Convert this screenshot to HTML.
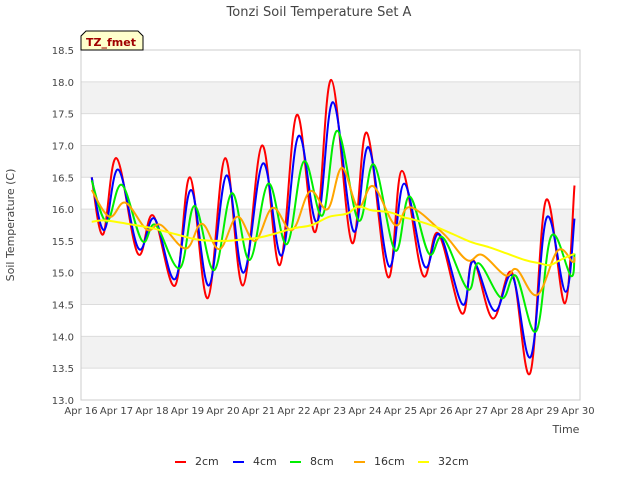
<!DOCTYPE html>
<html><head><meta charset="utf-8"><style>
body{margin:0;background:#fff;font-family:"Liberation Sans","DejaVu Sans",sans-serif;}
svg text{font-family:"DejaVu Sans","Liberation Sans",sans-serif;}
</style></head><body>
<svg id="c" width="640" height="480" xmlns="http://www.w3.org/2000/svg">
<rect width="640" height="480" fill="#fff"/>
<text x="319" y="16" text-anchor="middle" font-size="13" fill="#444">Tonzi Soil Temperature Set A</text>
<g id="grid"></g>
<rect x="81" y="50" width="499" height="350" fill="none" stroke="#ccc"/>
<g id="series"></g>
<g id="axes"></g>
<text x="14" y="225" transform="rotate(-90 14 225)" text-anchor="middle" font-size="11" fill="#444">Soil Temperature (C)</text>
<text x="566" y="433" text-anchor="middle" font-size="11" fill="#444">Time</text>
<g>
<path d="M81,50 L81,36 L86,31 L138,31 L143,36 L143,50 Z" fill="#ffffcc" stroke="#000" stroke-width="1"/>
<text x="111" y="46" text-anchor="middle" font-size="11" font-weight="bold" fill="#a00000">TZ_fmet</text>
</g>
<g id="legend"></g>
</svg>
<script>
const yTicks=[13.0,13.5,14.0,14.5,15.0,15.5,16.0,16.5,17.0,17.5,18.0,18.5];
const xTickLabels=["Apr 16","Apr 17","Apr 18","Apr 19","Apr 20","Apr 21","Apr 22","Apr 23","Apr 24","Apr 25","Apr 26","Apr 27","Apr 28","Apr 29","Apr 30"];
const seriesNames=["2cm","4cm","8cm","16cm","32cm"];
const seriesColors=["#ff0000","#0000ff","#00ee00","#ffa500","#ffff00"];
const t2=[0.3,0.62,1.0,1.6,2.03,2.65,3.07,3.57,4.06,4.56,5.1,5.6,6.08,6.6,7.05,7.63,8.05,8.65,9.04,9.63,10.06,10.73,11.04,11.6,12.14,12.65,13.1,13.63,13.9];
const v2=[16.5,15.6,16.8,15.3,15.9,14.8,16.5,14.6,16.8,14.8,17.0,15.12,17.48,15.64,18.03,15.47,17.2,14.93,16.6,14.96,15.62,14.36,15.2,14.28,15.0,13.42,16.14,14.52,16.37];
const t4=[0.3,0.65,1.05,1.62,2.07,2.65,3.1,3.6,4.1,4.58,5.13,5.65,6.13,6.65,7.1,7.68,8.1,8.68,9.1,9.68,10.1,10.75,11.05,11.65,12.15,12.67,13.12,13.65,13.9];
const v4=[16.5,15.67,16.62,15.38,15.85,14.9,16.3,14.8,16.53,15.0,16.72,15.27,17.15,15.8,17.68,15.65,16.97,15.1,16.4,15.1,15.6,14.5,15.18,14.4,14.95,13.68,15.87,14.7,15.85];
const t8=[0.3,0.72,1.15,1.72,2.1,2.78,3.2,3.75,4.25,4.75,5.28,5.8,6.28,6.8,7.22,7.82,8.25,8.85,9.25,9.8,10.2,10.9,11.2,11.85,12.25,12.82,13.25,13.8,13.9];
const v8=[16.45,15.8,16.38,15.5,15.75,15.07,16.05,15.04,16.25,15.2,16.4,15.45,16.75,15.9,17.23,15.82,16.7,15.35,16.2,15.3,15.55,14.74,15.15,14.6,14.95,14.08,15.58,14.95,15.3];
const t16=[0.3,0.8,1.25,1.85,2.25,2.95,3.4,3.9,4.4,4.9,5.4,5.95,6.45,6.95,7.35,7.8,8.23,8.85,9.27,10.2,10.87,11.3,11.95,12.28,12.85,13.43,13.85,13.9];
const v16=[16.3,15.88,16.1,15.68,15.75,15.38,15.77,15.37,15.88,15.5,16.02,15.67,16.28,16.0,16.65,16.03,16.36,15.75,16.03,15.62,15.2,15.28,14.96,15.05,14.65,15.35,15.17,15.25];
const t32=[0.3,0.7,1.5,2.0,2.7,3.3,4.0,4.5,5.0,5.5,6.0,6.5,7.0,7.5,7.8,8.2,8.7,9.1,9.4,10.0,10.5,11.0,11.5,12.0,12.5,12.9,13.2,13.5,13.9];
const v32=[15.8,15.82,15.75,15.7,15.6,15.52,15.5,15.52,15.55,15.62,15.7,15.75,15.88,15.93,16.04,15.98,15.95,15.87,15.83,15.72,15.6,15.48,15.4,15.3,15.2,15.15,15.12,15.2,15.3];
const allT=[t2,t4,t8,t16,t32], allV=[v2,v4,v8,v16,v32];

const NS="http://www.w3.org/2000/svg";
const X0=81,X1=578,Y0=400,Y1=50,YMIN=13,YMAX=18.5;
const xS=d=>X0+d*(X1-X0)/14;
const yS=v=>Y0-(v-YMIN)*(Y0-Y1)/(YMAX-YMIN);
function mk(tag,attrs,parent){const e=document.createElementNS(NS,tag);for(const k in attrs)e.setAttribute(k,attrs[k]);parent.appendChild(e);return e;}
const grid=document.getElementById('grid'),axes=document.getElementById('axes'),ser=document.getElementById('series'),leg=document.getElementById('legend');
for(let i=0;i<yTicks.length-1;i++){
  if(i%2==1){const r=mk('rect',{x:81,y:yS(yTicks[i+1]),width:499,height:yS(yTicks[i])-yS(yTicks[i+1]),fill:'#f2f2f2'},grid);
  
  }
}
yTicks.forEach(v=>{
  const l=mk('line',{x1:81,x2:580,y1:yS(v),y2:yS(v),stroke:'#dcdcdc'},grid);
  
  
  const t=mk('text',{x:74,y:yS(v)+4,'text-anchor':'end','font-size':'10',fill:'#444'},axes);
  t.textContent=v.toFixed(1);
  
  
});
xTickLabels.forEach((s,i)=>{
  const t=mk('text',{x:xS(i),y:414,'text-anchor':'middle','font-size':'10',fill:'#444'},axes);
  t.textContent=s;
  
  
});
function pathFor(ts,vs){
  const p=ts.map((t,i)=>[xS(t),yS(vs[i])]);
  let d='M'+p[0][0].toFixed(1)+','+p[0][1].toFixed(1);
  for(let i=0;i<p.length-1;i++){
    const a=p[Math.max(0,i-1)],b=p[i],c=p[i+1],e=p[Math.min(p.length-1,i+2)];
    const k=0.18;
    const c1=[b[0]+(c[0]-a[0])*k,b[1]+(c[1]-a[1])*k];
    const c2=[c[0]-(e[0]-b[0])*k,c[1]-(e[1]-b[1])*k];
    d+=' C'+c1.map(n=>n.toFixed(1))+' '+c2.map(n=>n.toFixed(1))+' '+c.map(n=>n.toFixed(1));
  }
  return d;
}
[3,4,2,1,0].forEach(i=>{});
for(let i=0;i<5;i++){
  const p=mk('path',{d:pathFor(allT[i],allV[i]),fill:'none',stroke:seriesColors[i],'stroke-width':'2'},ser);
  
  
}
const lx=[175,233,290,354,418];
for(let i=0;i<5;i++){
  const g=mk('g',{},leg);
  
  
  mk('line',{x1:lx[i],x2:lx[i]+11,y1:462,y2:462,stroke:seriesColors[i],'stroke-width':'2'},g);
  const t=mk('text',{x:lx[i]+20,y:465,'font-size':'11',fill:'#333'},g);
  t.textContent=seriesNames[i];
}
</script>
</body></html>
